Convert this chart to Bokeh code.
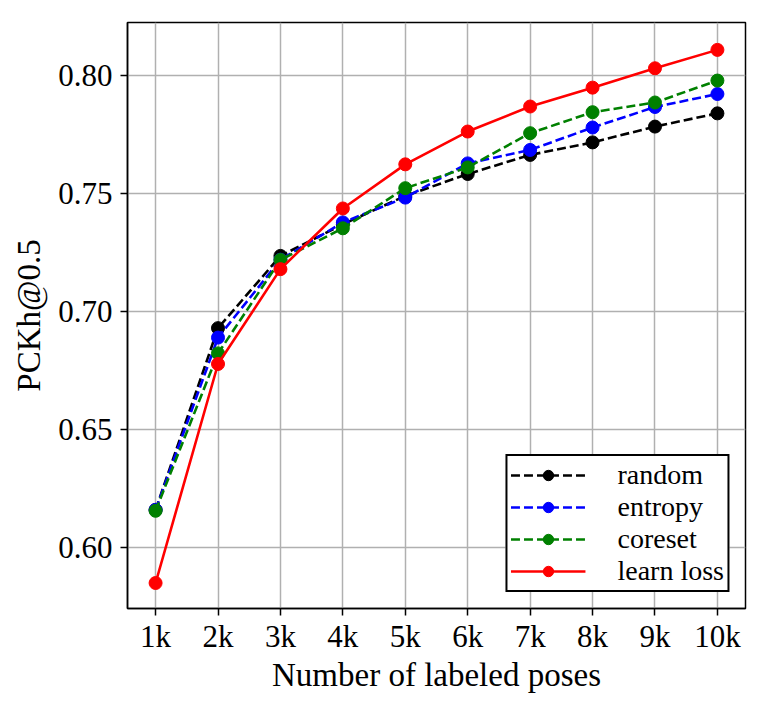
from bokeh.plotting import figure
from bokeh.embed import file_html
from bokeh.resources import INLINE
from bokeh.models import FixedTicker, Range1d, Legend

x_vals = [1, 2, 3, 4, 5, 6, 7, 8, 9, 10]
x_labels = ["1k", "2k", "3k", "4k", "5k", "6k", "7k", "8k", "9k", "10k"]
random_vals = [0.616, 0.693, 0.7236, 0.737, 0.749, 0.7583, 0.7664, 0.7717, 0.7784, 0.7840]
entropy_vals = [0.616, 0.689, 0.722, 0.7378, 0.7483, 0.7628, 0.7685, 0.778, 0.7867, 0.7922]
coreset_vals = [0.6156, 0.6823, 0.7219, 0.7353, 0.7523, 0.7611, 0.7756, 0.7845, 0.7886, 0.7979]
learnloss_vals = [0.585, 0.6778, 0.718, 0.7437, 0.7624, 0.7763, 0.7869, 0.7949, 0.8031, 0.8109]

series = [
    ("random", random_vals, "black", "9 4"),
    ("entropy", entropy_vals, "blue", "9 4"),
    ("coreset", coreset_vals, "green", "9 4"),
    ("learn loss", learnloss_vals, "red", "solid"),
]

FONT = "Liberation Serif"

p = figure(width=768, height=708, output_backend="svg", toolbar_location=None,
           x_range=Range1d(0.55, 10.45), y_range=Range1d(0.5742, 0.8225),
           min_border_left=127, min_border_right=23, min_border_top=22, min_border_bottom=100)

items = []
for name, vals, color, dash in series:
    l = p.line(x_vals, vals, line_color=color, line_width=2.6, line_dash=dash)
    s = p.scatter(x_vals, vals, size=13, fill_color=color, line_color=color)
    items.append((name, [l, s]))

legend = Legend(items=items, location="bottom_right")
legend.label_text_font = FONT
legend.label_text_font_size = "28px"
legend.label_text_color = "black"
legend.glyph_width = 75
legend.glyph_height = 26
legend.label_standoff = 32
legend.spacing = 0
legend.padding = 3
legend.margin = 16
legend.label_height = 26
legend.border_line_color = "black"
legend.border_line_alpha = 1.0
legend.border_line_width = 2
legend.background_fill_alpha = 1.0
p.add_layout(legend)

p.xaxis.ticker = FixedTicker(ticks=x_vals)
p.xaxis.major_label_overrides = {x: lab for x, lab in zip(x_vals, x_labels)}
p.yaxis.ticker = FixedTicker(ticks=[0.60, 0.65, 0.70, 0.75, 0.80])
p.yaxis.major_label_overrides = {0.60: "0.60", 0.65: "0.65", 0.70: "0.70", 0.75: "0.75", 0.80: "0.80"}

for ax in (p.xaxis[0], p.yaxis[0]):
    ax.major_label_text_font = FONT
    ax.major_label_text_font_size = "31px"
    ax.major_label_text_color = "black"
    ax.axis_label_text_font = FONT
    ax.axis_label_text_font_size = "33px"
    ax.axis_label_text_font_style = "normal"
    ax.axis_label_text_color = "black"
    ax.minor_tick_line_color = None
    ax.major_tick_in = 0
    ax.major_tick_out = 7
    ax.major_tick_line_width = 1.5
    ax.axis_line_width = 1.5
    ax.axis_line_color = "black"
    ax.major_tick_line_color = "black"

p.xaxis.major_label_standoff = 3
p.yaxis.major_label_standoff = 8
p.xaxis.axis_label_standoff = 0
p.yaxis.axis_label_standoff = 8
p.xaxis.axis_label = "Number of labeled poses"
p.yaxis.axis_label = "PCKh@0.5"
p.yaxis.major_label_orientation = "horizontal"

p.grid.grid_line_color = "#b0b0b0"
p.grid.grid_line_width = 1.5
p.outline_line_color = "black"
p.outline_line_width = 1.5
p.background_fill_color = "white"
p.border_fill_color = "white"

open("out.html", "w").write(file_html(p, INLINE))
